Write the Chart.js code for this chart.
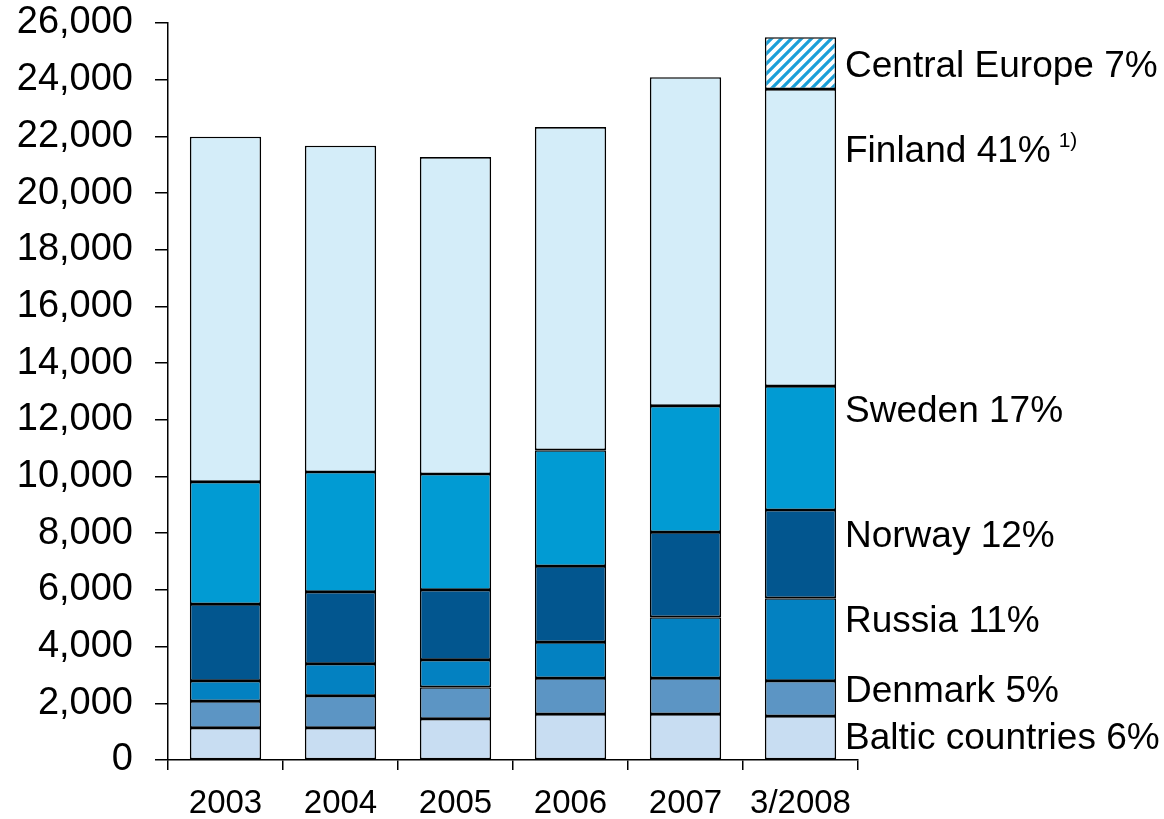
<!DOCTYPE html>
<html>
<head>
<meta charset="utf-8">
<script src="https://cdn.jsdelivr.net/npm/chart.js@4/dist/chart.umd.min.js"></script>
<style>
    html, body { margin: 0; padding: 0; background: #fff; }
    #wrap { width: 1164px; height: 819px; }
</style>
</head>
<body>
<div id="wrap"><canvas id="chart" width="1164" height="819"></canvas></div>
<script>
const years = ['2003', '2004', '2005', '2006', '2007', '3/2008'];

const baltic = [1130, 1130, 1450, 1620, 1620, 1550];
const denmark = [950, 1130, 1120, 1270, 1270, 1240];
const russia = [710, 1130, 960, 1270, 2150, 2920];
const norway = [2710, 2540, 2470, 2680, 3000, 3110];
const sweden = [4310, 4230, 4090, 4090, 4450, 4370];
const finland = [12180, 11510, 11180, 11400, 11600, 10480];
const centralEurope = [null, null, null, null, null, 1830];

const yTicks = [0, 2000, 4000, 6000, 8000, 10000, 12000, 14000, 16000, 18000, 20000, 22000, 24000, 26000];

// labels on the right of the last bar, y given in data units
const sideLabels = ['Baltic countries 6%', 'Denmark 5%', 'Russia 11%', 'Norway 12%', 'Sweden 17%', 'Finland 41%', 'Central Europe 7%'];
const sideLabelY = [740, 2400, 4870, 7870, 12280, 21450, 24440];

const FONT = '"Liberation Sans", Arial, sans-serif';

const makeHatch = () => {
    const c = document.createElement('canvas');
    c.width = 10;
    c.height = 10;
    const g = c.getContext('2d');
    g.fillStyle = '#ffffff';
    g.fillRect(0, 0, 10, 10);
    g.strokeStyle = '#1a9fd8';
    g.lineWidth = 3.2;
    g.beginPath();
    g.moveTo(-2, 12); g.lineTo(12, -2);
    g.moveTo(-7, 7); g.lineTo(7, -7);
    g.moveTo(3, 17); g.lineTo(17, 3);
    g.stroke();
    return g.createPattern(c, 'repeat');
};

const sideLabelPlugin = {
    id: 'sideLabels',
    afterDraw(chart) {
        const { ctx, chartArea, scales } = chart;
        const x = chartArea.right - 13;
        ctx.save();
        ctx.fillStyle = '#000';
        ctx.textAlign = 'left';
        ctx.textBaseline = 'middle';
        sideLabels.forEach((text, i) => {
            const y = scales.y.getPixelForValue(sideLabelY[i]);
            ctx.font = '37px ' + FONT;
            ctx.fillText(text, x, y);
            if (text.startsWith('Finland')) {
                const w = ctx.measureText(text).width;
                ctx.font = '21px ' + FONT;
                ctx.fillText('1)', x + w + 8, y - 11);
            }
        });
        ctx.restore();
    }
};

const seg = (label, data, color) => ({
    label,
    data,
    backgroundColor: color,
    borderColor: '#000',
    borderWidth: 1.6,
    borderSkipped: false
});

new Chart(document.getElementById('chart'), {
    type: 'bar',
    data: {
        labels: years,
        datasets: [
            seg('Baltic countries', baltic, '#c8ddf2'),
            seg('Denmark', denmark, '#5c95c4'),
            seg('Russia', russia, '#0381c1'),
            seg('Norway', norway, '#02568f'),
            seg('Sweden', sweden, '#019bd3'),
            seg('Finland', finland, '#d4edf9'),
            seg('Central Europe', centralEurope, makeHatch())
        ]
    },
    options: {
        responsive: false,
        animation: false,
        layout: { padding: { top: 23, right: 306, left: 0, bottom: 0 } },
        datasets: {
            bar: { categoryPercentage: 1, barPercentage: 0.62 }
        },
        plugins: {
            legend: { display: false },
            tooltip: { enabled: false }
        },
        scales: {
            x: {
                stacked: true,
                afterFit(scale) {
                    scale.height = 59;
                    scale.paddingLeft = 0;
                    scale.paddingRight = 0;
                },
                border: { color: '#000', width: 1.5 },
                grid: {
                    offset: true,
                    drawOnChartArea: false,
                    drawTicks: true,
                    tickLength: 10,
                    color: '#000',
                    lineWidth: 1.5
                },
                ticks: {
                    color: '#000',
                    padding: 14,
                    maxRotation: 0,
                    font: { family: FONT, size: 33 }
                }
            },
            y: {
                stacked: true,
                min: 0,
                max: 26000,
                afterFit(scale) {
                    scale.width = 168;
                    scale.paddingTop = 0;
                    scale.paddingBottom = 0;
                },
                afterBuildTicks(scale) {
                    scale.ticks = yTicks.map((value) => ({ value }));
                },
                border: { color: '#000', width: 1.5 },
                grid: {
                    drawOnChartArea: false,
                    drawTicks: true,
                    tickLength: 13,
                    color: '#000',
                    lineWidth: 1.5
                },
                ticks: {
                    color: '#000',
                    padding: 22,
                    font: { family: FONT, size: 38 },
                    callback: (value) => value.toLocaleString('en-US')
                }
            }
        }
    },
    plugins: [sideLabelPlugin]
});
</script>
</body>
</html>
